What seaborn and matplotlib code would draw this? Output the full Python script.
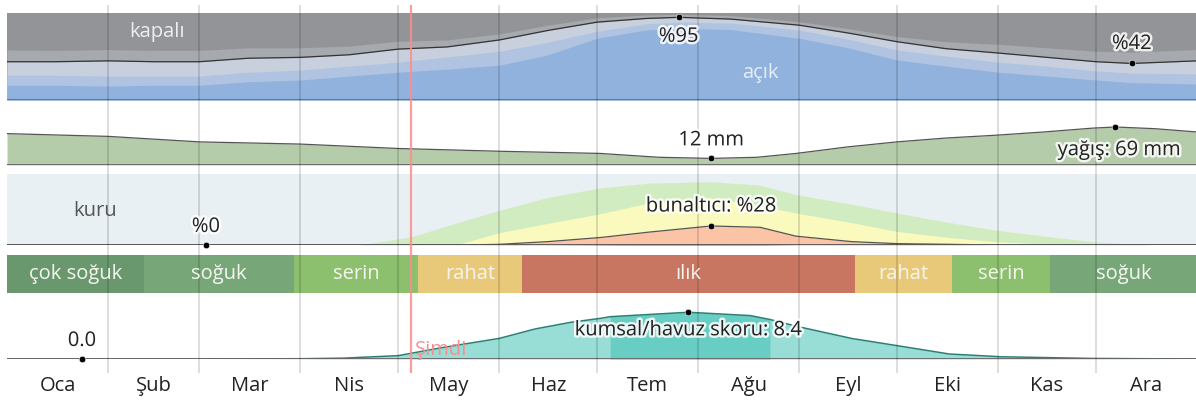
import numpy as np
import pandas as pd
import matplotlib
matplotlib.use("Agg")
import matplotlib.pyplot as plt
import matplotlib.patheffects as pe
import seaborn as sns

# ---- data -------------------------------------------------------------
MONTHS = ["Oca", "Şub", "Mar", "Nis", "May", "Haz", "Tem", "Ağu", "Eyl", "Eki", "Kas", "Ara"]
MONTH_STARTS = [0, 31, 59, 90, 120, 151, 181, 212, 243, 273, 304, 334, 365]
NOW_DAY = 124

# cloud cover, cumulative % of time (from bottom): clear, +mostly clear, +partly cloudy, +mostly cloudy
CLOUD_DAYS = [0, 15, 31, 45, 59, 74, 90, 105, 120, 135, 151, 166, 181, 196, 206, 222, 243, 258, 273, 288, 304, 319, 334, 345, 365]
CLEAR = [17, 17, 16, 17, 17, 21, 23, 27.5, 32, 35.5, 40, 52, 71, 80.5, 82.5, 81, 71, 60, 46, 39, 32, 27.5, 23, 20, 18.5]
MOSTLY_CLEAR = [28.5, 28.5, 27.5, 27.5, 27.5, 32, 34.5, 39, 43.5, 49.5, 56, 66.5, 79, 87.5, 89.5, 88.5, 80.5, 70, 57.5, 50.5, 43.5, 39, 33.5, 31, 30]
PARTLY_CLOUDY = [44, 44, 45, 44, 44, 48, 49, 52, 58.5, 61, 69, 80, 89.5, 93.7, 95, 93, 86, 77, 67, 59, 54, 49, 44, 42, 45]
MOSTLY_CLOUDY = [57.5, 57, 58, 57, 57, 60, 60, 62, 67.5, 69, 76, 86, 94.5, 97.7, 98.5, 97, 90, 82, 73, 67, 64, 60, 56, 55, 58]

# precipitation, mm
PRECIP_DAYS = [0, 31, 59, 90, 120, 151, 182, 200, 216, 230, 242, 258, 273, 288, 303, 318, 333, 340, 352, 365]
PRECIP_MM = [57, 52, 42, 38, 30, 25, 21, 14, 12, 14, 21, 33, 42, 49, 54, 60, 67, 69, 66, 60]

# humidity comfort, cumulative % of time
HUM_DAYS = [0, 61, 108, 124, 139, 151, 166, 182, 197, 216, 231, 242, 259, 273, 289, 303, 320, 333, 351, 365]
HUMID = [0, 0, 0, 12, 34, 51, 70, 84, 91, 93, 88, 74, 60, 47, 33, 22, 12, 5, 0, 0]
MUGGY = [0, 0, 0, 0, 2, 18, 32, 46, 62, 69, 58, 47, 33, 20, 11, 5, 1, 0, 0, 0]
OPPRESSIVE = [0, 0, 0, 0, 0, 1, 5, 11, 19, 28, 26, 13, 5, 2, 1, 0, 0, 0, 0, 0]
MISERABLE = [0, 0, 0, 0, 0, 0, 0, 0.5, 1.2, 1.2, 0.8, 0, 0, 0, 0, 0, 0, 0, 0, 0]

# temperature bands
TEMP_BOUNDS = [0, 42, 88, 126, 158, 260, 290, 320, 365]
TEMP_LABELS = ["çok soğuk", "soğuk", "serin", "rahat", "ılık", "rahat", "serin", "soğuk"]

# beach / pool score
BEACH_DAYS = [0, 23, 60, 90, 103, 120, 133, 151, 162, 173, 182, 185, 209, 228, 234, 242, 259, 273, 289, 305, 333, 365]
BEACH = [0, 0, 0, 0.05, 0.15, 0.6, 2.0, 3.7, 5.4, 6.6, 7.3, 7.6, 8.4, 7.8, 7.1, 5.9, 3.7, 2.4, 0.9, 0.4, 0.1, 0]
BEST_START, BEST_END = 185, 234

TEMP_COLORS = {"çok soğuk": "#6a986e", "soğuk": "#77a679", "serin": "#8cbf6e",
               "rahat": "#e8c97a", "ılık": "#c87662"}

# ---- layout -----------------------------------------------------------
sns.set_theme(style="white")
plt.rcParams["font.family"] = ["Open Sans", "DejaVu Sans"]

W, H = 1196, 403
X0, XW = 7, 1190

fig = plt.figure(figsize=(W / 100, H / 100), dpi=100)


def panel(top, bottom, face="none"):
    ax = fig.add_axes([X0 / W, 1 - bottom / H, XW / W, (bottom - top) / H])
    ax.set_facecolor(face)
    ax.set_xlim(0, 365)
    ax.set_xticks([])
    ax.set_yticks([])
    for s in ax.spines.values():
        s.set_visible(False)
    return ax


halo = [pe.withStroke(linewidth=3.5, foreground="white", alpha=0.85)]
FS = 14.5

# cloud cover
ax1 = panel(13, 100, "#929498")
ax1.set_ylim(0, 100)
d = np.array(CLOUD_DAYS)
ax1.fill_between(d, 0, MOSTLY_CLOUDY, color="#a6a9ae", lw=0)
ax1.fill_between(d, 0, PARTLY_CLOUDY, color="#c8d0de", lw=0)
ax1.fill_between(d, 0, MOSTLY_CLEAR, color="#b0c4e2", lw=0)
ax1.fill_between(d, 0, CLEAR, color="#92b2de", lw=0)
sns.lineplot(x=CLOUD_DAYS, y=PARTLY_CLOUDY, ax=ax1, color="#333333", lw=0.9)
ax1.axhline(0.5, color="#647896", lw=1.5)
i_max = int(np.argmax(PARTLY_CLOUDY))
i_min = int(np.argmin(PARTLY_CLOUDY))
sns.scatterplot(x=[CLOUD_DAYS[i_max], CLOUD_DAYS[i_min]], y=[PARTLY_CLOUDY[i_max], PARTLY_CLOUDY[i_min]],
                ax=ax1, color="black", s=22, zorder=5)

# precipitation
ax2 = panel(105, 165)
ax2.set_ylim(0, 109)
ax2.fill_between(PRECIP_DAYS, 0, PRECIP_MM, color="#b5ccaa", lw=0)
sns.lineplot(x=PRECIP_DAYS, y=PRECIP_MM, ax=ax2, color="#555555", lw=0.9)
ax2.axhline(0.6, color="#666666", lw=1.3)
p_max = int(np.argmax(PRECIP_MM))
p_min = int(np.argmin(PRECIP_MM))
sns.scatterplot(x=[PRECIP_DAYS[p_max], PRECIP_DAYS[p_min]], y=[PRECIP_MM[p_max], PRECIP_MM[p_min]],
                ax=ax2, color="black", s=22, zorder=5)

# humidity
ax3 = panel(174, 245, "#e8f0f3")
ax3.set_ylim(0, 104.4)
ax3.fill_between(HUM_DAYS, 0, HUMID, color="#d0ecc0", lw=0)
ax3.fill_between(HUM_DAYS, 0, MUGGY, color="#fafabe", lw=0)
ax3.fill_between(HUM_DAYS, 0, OPPRESSIVE, color="#fcc4a6", lw=0)
ax3.fill_between(HUM_DAYS, 0, MISERABLE, color="#dc5096", lw=0)
sns.lineplot(x=HUM_DAYS, y=OPPRESSIVE, ax=ax3, color="#555555", lw=0.9)
ax3.axhline(0.6, color="#555555", lw=1.3)
h_max = int(np.argmax(OPPRESSIVE))
h_min = 1
sns.scatterplot(x=[HUM_DAYS[h_max], HUM_DAYS[h_min]], y=[OPPRESSIVE[h_max], OPPRESSIVE[h_min]],
                ax=ax3, color="black", s=22, zorder=5, clip_on=False)

# temperature bands
ax4 = panel(255, 293)
ax4.set_ylim(0, 1)
temp = pd.DataFrame({"start": TEMP_BOUNDS[:-1], "end": TEMP_BOUNDS[1:], "label": TEMP_LABELS})
ax4.barh(0.5, temp["end"] - temp["start"], left=temp["start"], height=1.0,
         color=[TEMP_COLORS[l] for l in temp["label"]], lw=0)

# beach score
ax5 = panel(300, 359)
ax5.set_ylim(0, 10.6)
bd = np.array(BEACH_DAYS)
ax5.fill_between(bd, 0, BEACH, color="#98ded6", lw=0)
ax5.fill_between(bd, 0, BEACH, where=(bd >= BEST_START) & (bd <= BEST_END), color="#68cec4", lw=0)
sns.lineplot(x=BEACH_DAYS, y=BEACH, ax=ax5, color="#2d7f76", lw=1.1)
ax5.axhline(0.08, color="#666666", lw=1.3)
b_max = int(np.argmax(BEACH))
b_min = 1
sns.scatterplot(x=[BEACH_DAYS[b_max], BEACH_DAYS[b_min]], y=[BEACH[b_max], BEACH[b_min]],
                ax=ax5, color="black", s=22, zorder=5, clip_on=False)

# overlay: month grid, now line, labels
ov = panel(5, 373)
ov.set_zorder(10)
ov.set_ylim(0, 1)
for m in MONTH_STARTS[1:-1]:
    ov.axvline(m, color="black", alpha=0.17, lw=1.1, zorder=1)
ov.axvline(NOW_DAY, color="#ff8c8c", alpha=0.85, lw=1.6, zorder=2)
mids = [(a + b) / 2 for a, b in zip(MONTH_STARTS[:-1], MONTH_STARTS[1:])]
ov.set_xticks(mids, MONTHS)
ov.tick_params(axis="x", length=0, pad=2, labelsize=FS, labelcolor="#222222")


def label(ax, x, y, s, dy=0, ha="center", color="#222222", effects=halo, size=FS):
    ov.annotate(s, xy=(x, y), xycoords=ax.transData, xytext=(0, dy), textcoords="offset points",
                ha=ha, va="center", color=color, fontsize=size, path_effects=effects,
                zorder=6, annotation_clip=False)


label(ax1, 46, 78, "kapalı", color="#eeeeee", effects=None)
label(ax1, 231, 31, "açık", color="#e8eef8", effects=None)
label(ax1, CLOUD_DAYS[i_max], PARTLY_CLOUDY[i_max], f"%{PARTLY_CLOUDY[i_max]:.0f}", dy=-14)
label(ax1, CLOUD_DAYS[i_min], PARTLY_CLOUDY[i_min], f"%{PARTLY_CLOUDY[i_min]:.0f}", dy=14)
label(ax2, PRECIP_DAYS[p_min], PRECIP_MM[p_min], f"{PRECIP_MM[p_min]} mm", dy=13)
label(ax2, 360, 27, f"yağış: {PRECIP_MM[p_max]} mm", ha="right")
label(ax3, 27, 50, "kuru", color="#555555", effects=None)
label(ax3, HUM_DAYS[h_max], OPPRESSIVE[h_max], f"bunaltıcı: %{OPPRESSIVE[h_max]}", dy=14)
label(ax3, HUM_DAYS[h_min], OPPRESSIVE[h_min], f"%{OPPRESSIVE[h_min]}", dy=13)
for _, r in temp.iterrows():
    label(ax4, (r["start"] + r["end"]) / 2, 0.5, r["label"], color="#f6f6f0", effects=None)
label(ax5, BEACH_DAYS[b_max], BEACH[b_max], f"kumsal/havuz skoru: {BEACH[b_max]}", dy=-13)
label(ax5, BEACH_DAYS[b_min], BEACH[b_min], f"{BEACH[b_min]:.1f}", dy=13)
label(ax5, NOW_DAY + 1, 1.6, "Şimdi", ha="left", color="#f59090", effects=None)

fig.savefig("out.png", dpi=100)
